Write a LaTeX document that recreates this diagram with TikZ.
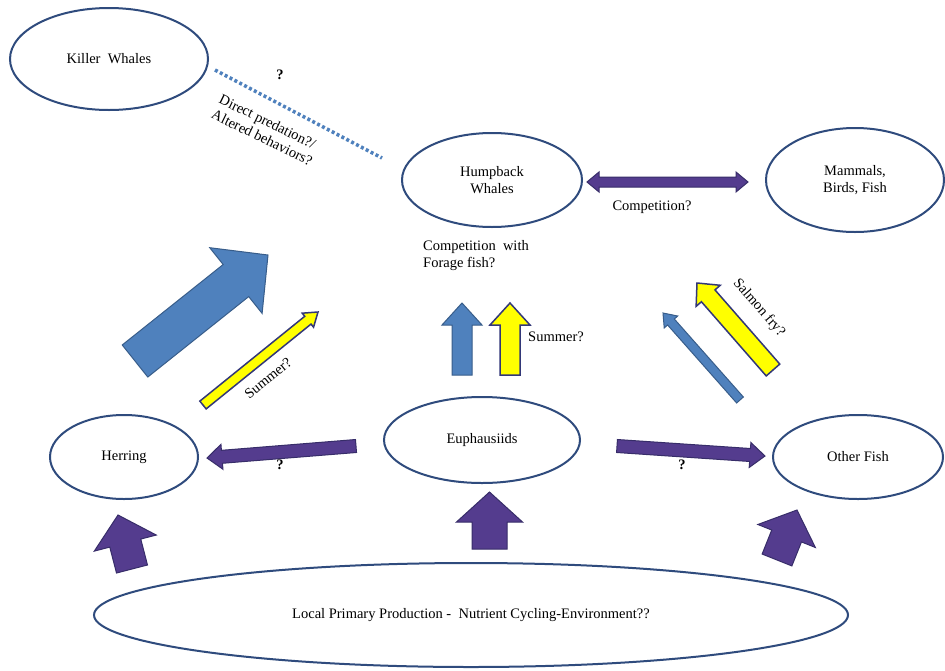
\documentclass[tikz,border=0pt]{standalone}
\usepackage{fontspec}
\setmainfont{Liberation Serif}
\usetikzlibrary{shapes.geometric,calc}
\definecolor{ellc}{RGB}{47,75,125}
\definecolor{bluef}{RGB}{79,129,189}
\definecolor{blued}{RGB}{56,93,138}
\definecolor{purf}{RGB}{84,60,142}
\definecolor{purd}{RGB}{55,45,105}
\definecolor{yelf}{RGB}{255,255,0}
\definecolor{yeld}{RGB}{50,55,120}
\newcommand{\barrow}[6]{%
  \coordinate (bah) at ($(#3)!#6!(#2)$);
  \draw[#1] ($(#2)!#4!90:(#3)$) -- ($(bah)!#4!-90:(#2)$) -- ($(bah)!#5!-90:(#2)$) -- (#3) -- ($(bah)!#5!90:(#2)$) -- ($(bah)!#4!90:(#2)$) -- ($(#2)!#4!-90:(#3)$) -- cycle;
}
\tikzset{
  txt/.style={font=\fontsize{14.5}{17}\selectfont, inner sep=0pt, text=black},
  oval/.style={ellipse, draw=ellc, line width=2pt, inner sep=0pt, align=center, font=\fontsize{14.5}{17}\selectfont},
  bluearr/.style={fill=bluef, draw=blued, line width=1pt, line join=miter},
  yelarr/.style={fill=yelf, draw=yeld, line width=1.5pt, line join=miter},
  purarr/.style={fill=purf, draw=purd, line width=1pt, line join=miter},
  dots/.style={draw=bluef, line width=3.5pt, dash pattern=on 3pt off 2.5pt}
}
\begin{document}
\begin{tikzpicture}[x=1pt,y=-1pt]
\useasboundingbox[fill=white] (0,0) rectangle (945,670);
% ellipses
\node[oval, minimum width=198pt, minimum height=102pt] (kw) at (109,59) {Killer\ \ Whales};
\node[oval, minimum width=180pt, minimum height=94pt] (hw) at (492,180) {Humpback\\Whales};
\node[oval, minimum width=178pt, minimum height=104pt] (mbf) at (855,180) {Mammals,\\Birds, Fish};
\node[oval, minimum width=148pt, minimum height=84pt] (her) at (124,457) {Herring};
\node[oval, minimum width=196pt, minimum height=86pt] (eup) at (482,440) {Euphausiids};
\node[oval, minimum width=170pt, minimum height=84pt] (of) at (858,457) {Other Fish};
\node[oval, minimum width=754pt, minimum height=104pt] (lpp) at (471,615) {Local Primary Production -\ \ Nutrient Cycling-Environment??};
% dotted connector
\coordinate (d1) at (215,70);
\coordinate (d2) at (382,158);
\draw[dots] (d1) -- (d2);
\node[txt] (q1) at (280,75) {\textbf{?}};
\node[txt, rotate=-26, align=left] (dp) at (266,130) {Direct predation?/\\Altered behaviors?};
% double arrow
\coordinate (dl) at (587,182);
\coordinate (dr) at (748,182);
\draw[purarr] (dl) -- ($(dl)+(12,-10)$) -- ($(dl)+(12,-5)$) -- ($(dr)+(-12,-5)$) -- ($(dr)+(-12,-10)$) -- (dr) -- ($(dr)+(-12,10)$) -- ($(dr)+(-12,5)$) -- ($(dl)+(12,5)$) -- ($(dl)+(12,10)$) -- cycle;
\node[txt] (comp) at (652,207) {Competition?};
\node[txt, align=left] (cwf) at (476,256) {Competition\ \ with\\Forage fish?};
% big blue arrow
\coordinate (bb1) at (135,361);
\coordinate (bb2) at (268,255);
\barrow{bluearr}{bb1}{bb2}{20.5pt}{42pt}{41pt}
% yellow diagonal
\coordinate (yd1) at (203,405);
\coordinate (yd2) at (318,312);
\barrow{yelarr}{yd1}{yd2}{5pt}{9pt}{13pt}
\node[txt, rotate=39] (s1) at (268,378) {Summer?};
% up arrows from euphausiids
\coordinate (bu1) at (462,375);
\coordinate (bu2) at (462,303);
\barrow{bluearr}{bu1}{bu2}{10pt}{20pt}{22pt}
\coordinate (yu1) at (510,375);
\coordinate (yu2) at (510,303);
\barrow{yelarr}{yu1}{yu2}{10pt}{20pt}{22pt}
\node[txt, anchor=west] (s2) at (528,337) {Summer?};
% other fish to mammals
\coordinate (bo1) at (740,400);
\coordinate (bo2) at (663,313);
\barrow{bluearr}{bo1}{bo2}{4.5pt}{9pt}{12pt}
\coordinate (yo1) at (773,370);
\coordinate (yo2) at (697,283);
\barrow{yelarr}{yo1}{yo2}{9pt}{16pt}{17pt}
\node[txt, rotate=-49] (sf) at (759,308) {Salmon fry?};
% horizontal purple arrows
\coordinate (hl1) at (356,446);
\coordinate (hl2) at (207,458);
\barrow{purarr}{hl1}{hl2}{6.5pt}{12.5pt}{15pt}
\node[txt] (q2) at (280,465) {\textbf{?}};
\coordinate (hr1) at (617,446);
\coordinate (hr2) at (765,456);
\barrow{purarr}{hr1}{hr2}{6.5pt}{12.5pt}{15pt}
\node[txt] (q3) at (682,465) {\textbf{?}};
% bottom up arrows
\coordinate (pl1) at (132,569);
\coordinate (pl2) at (118,515);
\barrow{purarr}{pl1}{pl2}{16pt}{32pt}{29pt}
\coordinate (pm1) at (489.5,549);
\coordinate (pm2) at (489.5,492);
\barrow{purarr}{pm1}{pm2}{17.5pt}{33pt}{30pt}
\coordinate (pr1) at (777,560);
\coordinate (pr2) at (797,510);
\barrow{purarr}{pr1}{pr2}{16pt}{31pt}{28pt}
\end{tikzpicture}
\end{document}
